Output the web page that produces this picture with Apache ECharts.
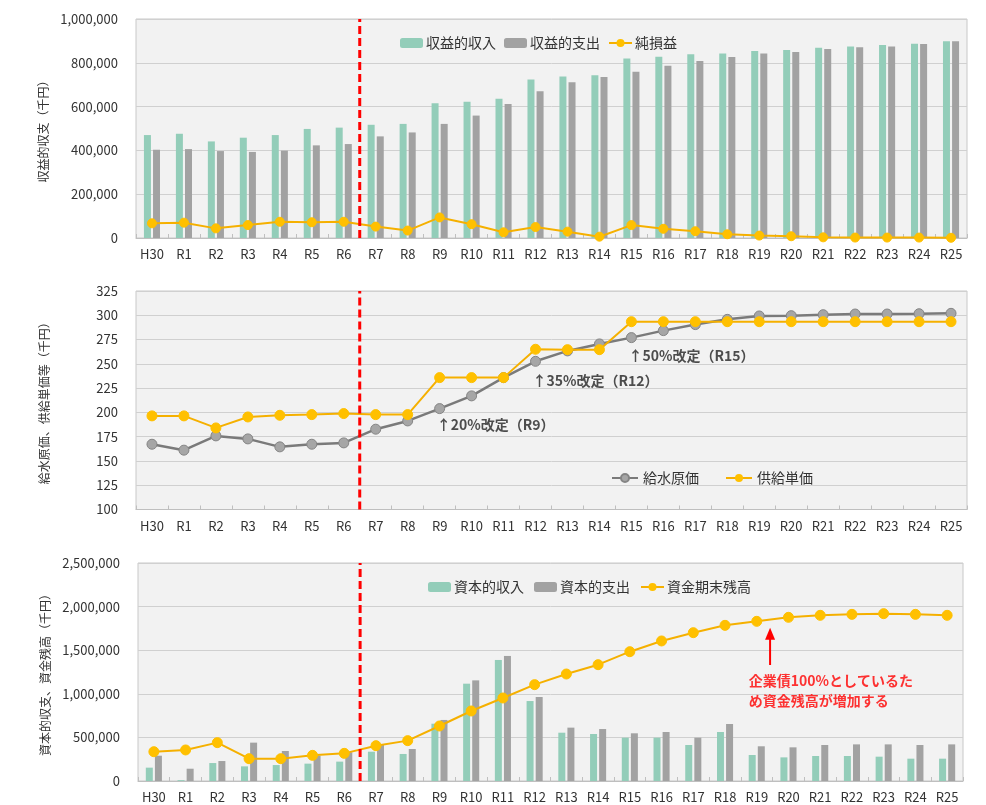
<!DOCTYPE html>
<html><head><meta charset="utf-8">
<script src="https://cdn.jsdelivr.net/npm/echarts@6/dist/echarts.min.js"></script>
<style>html,body{margin:0;padding:0;background:#fff}#c{width:986px;height:805px}</style>
</head><body><div id="c"></div><script>
const categories = ['H30','R1','R2','R3','R4','R5','R6','R7','R8','R9','R10','R11','R12','R13','R14','R15','R16','R17','R18','R19','R20','R21','R22','R23','R24','R25'];

// 収益的収支（千円）
const revIncome  = [470000,476000,441000,458000,470000,498000,504000,517000,521000,615000,622000,636000,724000,737000,743000,820000,828000,839000,843000,854000,858000,869000,875000,881000,887000,898000];
const revExpense = [403000,406000,397000,393000,399000,423000,429000,464000,482000,521000,559000,612000,670000,711000,735000,759000,787000,808000,826000,842000,849000,863000,871000,875000,886000,898000];
const netProfit  = [67000,70000,44000,59000,74000,72000,74000,52000,34000,94000,63000,26000,50000,29000,6000,59000,42000,31000,17000,11000,8000,3000,2000,2000,2000,1000];

// 給水原価・供給単価
const waterCost   = [167.2,161.1,175.8,172.7,164.5,167.2,168.6,182.7,191.2,203.9,217.0,235.8,252.6,263.3,270.5,277.0,284.2,290.4,295.8,299.3,299.6,300.6,301.3,301.3,301.6,302.0];
const supplyPrice = [196.4,196.4,184.0,195.3,197.0,197.7,198.8,197.7,197.7,235.8,235.8,235.8,265.0,264.6,264.6,293.4,293.4,293.4,293.4,293.4,293.4,293.4,293.4,293.4,293.4,293.4];

// 資本的収支・資金残高（千円）
const capIncome   = [153000,10000,206000,168000,183000,199000,222000,336000,310000,657000,1116000,1388000,917000,554000,539000,497000,497000,413000,562000,298000,271000,287000,287000,279000,256000,256000];
const capExpense  = [290000,141000,229000,440000,344000,290000,330000,413000,367000,700000,1154000,1434000,963000,612000,596000,547000,562000,497000,654000,398000,386000,413000,420000,420000,413000,420000];
const fundBalance = [336000,356000,440000,256000,256000,294000,317000,405000,463000,631000,803000,952000,1105000,1227000,1334000,1483000,1606000,1701000,1785000,1831000,1877000,1900000,1911000,1919000,1911000,1900000];

// divider between actual and forecast (between R6 and R7)
const dividerIndex = 6.5;
const rateNotes = [
  {cat:'R9',  y:187, text:'↑20%改定（R9）'},
  {cat:'R12', y:233, text:'↑35%改定（R12）'},
  {cat:'R15', y:258, text:'↑50%改定（R15）'}
];
const bondNote = {x:18.75, y:1040000, text:'企業債100%としているた\nめ資金残高が増加する'};
const bondArrow = [[19.42,1330000],[19.42,1690000]];

const FONT = "'Noto Sans CJK JP','Noto Sans',sans-serif";
const GREEN = '#93cdb9', GRAY = '#a2a2a2', YEL = '#ffc000', YLINE = '#f5b000';

const grids = [
  {left:136, right:19, top:19, height:219},
  {left:136, right:19, top:291, height:218.5},
  {left:138, right:23, top:563, height:218}
];
grids.forEach(g=>{g.show=true;g.backgroundColor='#f2f2f2';g.borderColor='#c8c8c8';g.borderWidth=1;});

function catAxis(i){
  return {type:'category', gridIndex:i, data:categories, boundaryGap:true,
    axisLine:{lineStyle:{color:'#bfbfbf'}},
    axisTick:{show:true, inside:true, length:4, lineStyle:{color:'#bfbfbf'}},
    axisLabel:{color:'#333', fontSize:13, fontFamily:FONT, margin:10, interval:0}};
}
function hidAxis(i){
  return {type:'value', gridIndex:i, min:-0.5, max:25.5, show:false};
}
function valAxis(i, min, max, interval, name, fmt){
  return {type:'value', gridIndex:i, min, max, interval, name, nameLocation:'middle', nameGap:86,
    nameTextStyle:{color:'#333', fontSize:12, fontFamily:FONT},
    axisLine:{show:false}, axisTick:{show:false},
    splitLine:{lineStyle:{color:'#d0d0d0', width:1}},
    axisLabel:{color:'#333', fontSize:13, fontFamily:FONT, margin:18, formatter:fmt}};
}
const numFmt = v => v.toLocaleString('en-US');

function divider(i, ymin, ymax){
  return {type:'line', xAxisIndex:3+i, yAxisIndex:i, data:[[dividerIndex,ymin],[dividerIndex,ymax]],
    symbol:'none', silent:true, z:10, lineStyle:{color:'#ff0000', width:3, type:[8,4]}};
}
const barCommon = {type:'bar', barWidth:7, barGap:'30%'};
const yelLine = {type:'line', symbol:'circle', symbolSize:10, z:4,
  itemStyle:{color:YEL, borderColor:YEL}, lineStyle:{color:YLINE, width:2}};

const option = {
  animation:false,
  backgroundColor:'#fff',
  textStyle:{fontFamily:FONT},
  grid:grids,
  xAxis:[catAxis(0),catAxis(1),catAxis(2),hidAxis(0),hidAxis(1),hidAxis(2)],
  yAxis:[
    valAxis(0,0,1000000,200000,'収益的収支（千円）',numFmt),
    valAxis(1,100,325,25,'給水原価、供給単価等（千円）',v=>v),
    valAxis(2,0,2500000,500000,'資本的収支、資金残高（千円）',numFmt)
  ],
  legend:[
    {data:['収益的収入','収益的支出','純損益'], left:395, top:31, itemWidth:23, itemHeight:10, itemGap:8,
      textStyle:{fontSize:14, color:'#333', fontFamily:FONT, padding:[0,0,0,-2]}},
    {data:['給水原価','供給単価'], left:606, top:466, itemWidth:26, itemHeight:10, itemGap:26,
      textStyle:{fontSize:14, color:'#333', fontFamily:FONT}},
    {data:['資本的収入','資本的支出','資金期末残高'], left:423, top:575, itemWidth:23, itemHeight:10, itemGap:10,
      textStyle:{fontSize:14, color:'#333', fontFamily:FONT, padding:[0,0,0,-2]}}
  ],
  series:[
    Object.assign({name:'収益的収入', xAxisIndex:0, yAxisIndex:0, data:revIncome, itemStyle:{color:GREEN}}, barCommon),
    Object.assign({name:'収益的支出', xAxisIndex:0, yAxisIndex:0, data:revExpense, itemStyle:{color:GRAY}}, barCommon),
    Object.assign({}, yelLine, {name:'純損益', xAxisIndex:0, yAxisIndex:0, data:netProfit, symbolSize:9}),
    divider(0,0,1000000),

    {name:'給水原価', type:'line', xAxisIndex:1, yAxisIndex:1, data:waterCost, symbol:'circle', symbolSize:10, z:3,
      itemStyle:{color:'#a6a6a6', borderColor:'#858585', borderWidth:1}, lineStyle:{color:'#7a7a7a', width:2.5}},
    Object.assign({}, yelLine, {name:'供給単価', xAxisIndex:1, yAxisIndex:1, data:supplyPrice, z:4}),
    divider(1,100,325),
    {type:'scatter', xAxisIndex:1, yAxisIndex:1, symbolSize:0, silent:true, z:6,
      data:rateNotes.map(n=>({value:[n.cat,n.y], name:n.text})),
      label:{show:true, position:[-3,0], align:'left', verticalAlign:'middle', formatter:p=>p.name,
        color:'#222', fontSize:14, fontWeight:'bold', fontFamily:FONT}},

    Object.assign({name:'資本的収入', xAxisIndex:2, yAxisIndex:2, data:capIncome, itemStyle:{color:GREEN}}, barCommon),
    Object.assign({name:'資本的支出', xAxisIndex:2, yAxisIndex:2, data:capExpense, itemStyle:{color:GRAY}}, barCommon),
    Object.assign({}, yelLine, {name:'資金期末残高', xAxisIndex:2, yAxisIndex:2, data:fundBalance}),
    divider(2,0,2500000),
    {type:'line', xAxisIndex:5, yAxisIndex:2, silent:true, z:6,
      data:[{value:bondArrow[0], symbol:'none'},{value:bondArrow[1], symbol:'triangle', symbolSize:[10,12]}],
      itemStyle:{color:'#ff0000'}, lineStyle:{color:'#ff0000', width:2}},
    {type:'scatter', xAxisIndex:5, yAxisIndex:2, symbolSize:0, silent:true, z:6,
      data:[{value:[bondNote.x,bondNote.y], name:bondNote.text}],
      label:{show:true, position:[0,0], align:'left', verticalAlign:'middle', formatter:p=>p.name,
        color:'#ff0000', fontSize:14, fontWeight:'bold', lineHeight:20, fontFamily:FONT}}
  ]
};
const chart = echarts.init(document.getElementById('c'), null, {renderer:'canvas'});
chart.setOption(option);
</script></body></html>
